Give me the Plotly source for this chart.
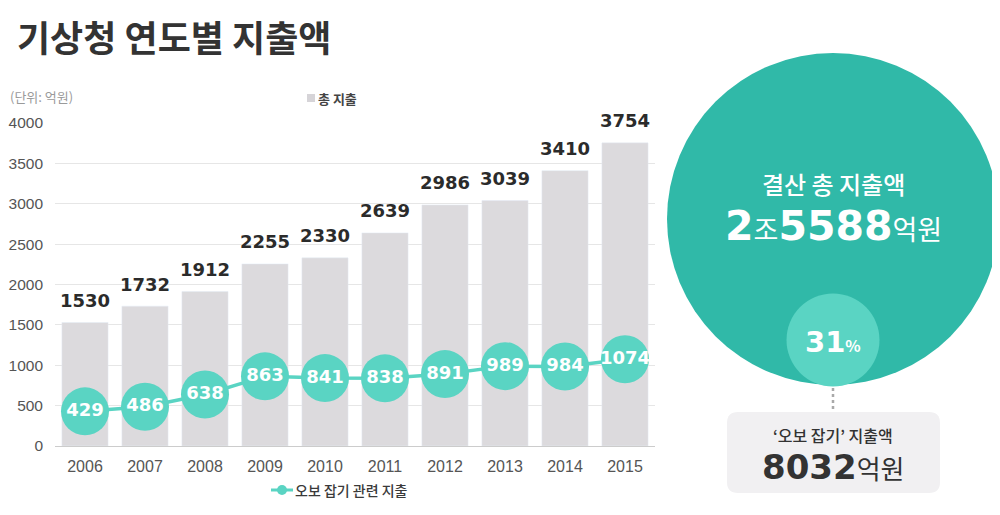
import plotly.graph_objects as go

years = ["2006", "2007", "2008", "2009", "2010", "2011", "2012", "2013", "2014", "2015"]
total_spend = [1530, 1732, 1912, 2255, 2330, 2639, 2986, 3039, 3410, 3754]
forecast_spend = [429, 486, 638, 863, 841, 838, 891, 989, 984, 1074]
y_ticks = [0, 500, 1000, 1500, 2000, 2500, 3000, 3500, 4000]

W, H = 1000, 515
OFF = 8  # browser default body margin
# plot area in page pixels: x 55..655, y 123..446
L = 55 - OFF
T = 123 - OFF
R = W - (655 - OFF)
B = H - (446 - OFF)
PW, PH = W - L - R, H - T - B


def px(x):
    return (x - OFF - L) / PW


def py(y):
    return (H - B - (y - OFF)) / PH


BAR = "#dcdadd"
TEAL = "#5ad4c3"
TEAL_DARK = "#30b9a8"
NUM_FONT = "DejaVu Sans"
KR_FONT = "Noto Sans CJK KR"

fig = go.Figure()
fig.add_trace(go.Bar(
    x=years, y=total_spend, name="총 지출", marker_color=BAR, width=0.77,
    showlegend=False,
))
fig.add_trace(go.Scatter(
    x=years, y=total_spend, mode="markers+text", text=total_spend,
    marker=dict(size=16, opacity=0),
    textposition="top center", showlegend=False, cliponaxis=False,
    textfont=dict(family=NUM_FONT, size=18, color="#2b2b2b", weight="bold"),
))
fig.add_trace(go.Scatter(
    x=years, y=forecast_spend, name="오보 잡기 관련 지출", mode="lines+markers",
    line=dict(color=TEAL, width=3.5), marker=dict(color=TEAL, size=48),
    cliponaxis=False, showlegend=False,
))
fig.add_trace(go.Scatter(
    x=years, y=forecast_spend, mode="text", text=forecast_spend,
    textposition="middle center", showlegend=False, cliponaxis=False,
    textfont=dict(family=NUM_FONT, size=18, color="white", weight="bold"),
))

shapes = []
# big circle
cx, cy, r = 833, 219, 166
shapes.append(dict(type="circle", xref="paper", yref="paper",
                   x0=px(cx - r), x1=px(cx + r), y0=py(cy + r), y1=py(cy - r),
                   fillcolor=TEAL_DARK, line=dict(width=0), layer="above"))
# small circle
scx, scy, sr = 833, 340, 46.5
shapes.append(dict(type="circle", xref="paper", yref="paper",
                   x0=px(scx - sr), x1=px(scx + sr), y0=py(scy + sr), y1=py(scy - sr),
                   fillcolor=TEAL, line=dict(width=0), layer="above"))
# dotted connector
shapes.append(dict(type="line", xref="paper", yref="paper",
                   x0=px(833), x1=px(833), y0=py(388), y1=py(411),
                   line=dict(color="#a9a9a9", width=2.5, dash="dot"), layer="above"))
# rounded box
bx0, bx1, by0, by1, rr = 727, 940, 412, 493, 11


def rpath(x0, x1, y0, y1, r):
    pts = [
        f"M {px(x0 + r)} {py(y0)}",
        f"L {px(x1 - r)} {py(y0)}",
        f"Q {px(x1)} {py(y0)} {px(x1)} {py(y0 + r)}",
        f"L {px(x1)} {py(y1 - r)}",
        f"Q {px(x1)} {py(y1)} {px(x1 - r)} {py(y1)}",
        f"L {px(x0 + r)} {py(y1)}",
        f"Q {px(x0)} {py(y1)} {px(x0)} {py(y1 - r)}",
        f"L {px(x0)} {py(y0 + r)}",
        f"Q {px(x0)} {py(y0)} {px(x0 + r)} {py(y0)}",
        "Z",
    ]
    return " ".join(pts)


shapes.append(dict(type="path", xref="paper", yref="paper", path=rpath(bx0, bx1, by0, by1, rr),
                   fillcolor="#f1f0f2", line=dict(width=0), layer="above"))

# legend keys (drawn manually)
shapes.append(dict(type="rect", xref="paper", yref="paper",
                   x0=px(307), x1=px(315), y0=py(102), y1=py(94),
                   fillcolor="#d6d4d8", line=dict(width=0)))
shapes.append(dict(type="line", xref="paper", yref="paper",
                   x0=px(271), x1=px(293), y0=py(490), y1=py(490),
                   line=dict(color=TEAL, width=3)))
shapes.append(dict(type="circle", xref="paper", yref="paper",
                   x0=px(277), x1=px(287), y0=py(495), y1=py(485),
                   fillcolor=TEAL, line=dict(width=0)))

ann = []


def add_text(x, y, text, size, color, family=KR_FONT, xanchor="center", weight="normal"):
    ann.append(dict(xref="paper", yref="paper", x=px(x), y=py(y), text=text,
                    showarrow=False, xanchor=xanchor, yanchor="middle",
                    font=dict(family=family, size=size, color=color, weight=weight)))


add_text(15, 36, "기상청 연도별 지출액", 36, "#333333", xanchor="left", weight="bold")
add_text(8, 97, "(단위: 억원)", 13, "#9a9a9a", xanchor="left")
add_text(316, 98, "총 지출", 13, "#444444", xanchor="left", weight="bold")
add_text(293, 490, "오보 잡기 관련 지출", 14, "#3a3a3a", xanchor="left", weight=500)
add_text(833, 183, "결산 총 지출액", 24, "white", weight=500)
add_text(833, 226,
         f"<span style='font-family:{NUM_FONT};font-size:41px'><b>2</b></span>"
         f"<span style='font-size:27px'>조</span>"
         f"<span style='font-family:{NUM_FONT};font-size:41px'><b>5588</b></span>"
         f"<span style='font-size:27px'>억원</span>", 27, "white")
add_text(833, 342,
         f"<span style='font-family:{NUM_FONT};font-size:29px'><b>31</b></span>"
         f"<span style='font-size:16px'><b>%</b></span>", 16, "white")
add_text(833, 435, "‘오보 잡기’ 지출액", 16, "#333333", weight=500)
add_text(833, 467,
         f"<span style='font-family:{NUM_FONT};font-size:34px'><b>8032</b></span>"
         f"<span style='font-size:26px'>억원</span>", 26, "#333333")

fig.update_layout(
    width=W, height=H, margin=dict(l=L, r=R, t=T, b=B, pad=0, autoexpand=False),
    paper_bgcolor="white", plot_bgcolor="white",
    showlegend=False,
    font=dict(family="Liberation Sans", color="#555555"),
    shapes=shapes, annotations=ann,
    xaxis=dict(type="category", range=[-0.5, 9.5], showgrid=False, showline=True,
               linecolor="#cccccc", linewidth=1, ticks="",
               tickfont=dict(size=16, color="#555555"),
               ticklabelstandoff=6, fixedrange=True),
    yaxis=dict(range=[0, 4000], tickvals=y_ticks, showgrid=True, gridcolor="#e6e6e6",
               zeroline=False, showline=False, ticks="",
               tickfont=dict(size=15.5, color="#555555"), ticklabelstandoff=11,
               fixedrange=True),
)

fig.write_html("out.html")
